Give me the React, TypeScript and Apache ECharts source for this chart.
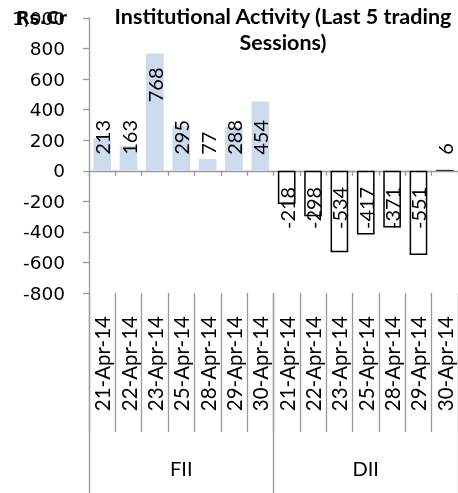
import React, { useEffect, useRef } from "react";
import * as echarts from "echarts";

const dates = ["21-Apr-14", "22-Apr-14", "23-Apr-14", "25-Apr-14", "28-Apr-14", "29-Apr-14", "30-Apr-14"];
const groups = ["FII", "DII"];
const fiiValues = [213, 163, 768, 295, 77, 288, 454];
const diiValues = [-218, -298, -534, -417, -371, -551, 6];
const yTicks = { min: -800, max: 1000, interval: 200 };

const AXIS_GRAY = "#999999";
const LABEL_FONT = "Lato";
const TEXT_COLOR = "#000000";

export default function App() {
  const ref = useRef<HTMLDivElement>(null);

  useEffect(() => {
    if (!ref.current) return;
    const chart = echarts.init(ref.current, null, { renderer: "svg" });

    const categories = [...dates, ...dates];
    const empty = dates.map(() => "-");

    const labelFor = (v: number) => {
      if (v >= 0) {
        const top = v > 600;
        return {
          show: true,
          position: top ? "insideTop" : "insideBottom",
          align: top ? "right" : "left",
          distance: top ? 14 : 16,
          color: TEXT_COLOR,
          textBorderWidth: 0,
        };
      }
      return {
        show: true,
        position: "insideTop",
        align: "right",
        distance: 16,
        color: TEXT_COLOR,
        textBorderWidth: 0,
      };
    };

    const fiiData = [
      ...fiiValues.map((v) => ({ value: v, label: labelFor(v) })),
      ...empty,
    ];
    const diiData = [
      ...empty,
      ...diiValues.map((v) => {
        const item: any = { value: v, label: labelFor(v) };
        if (Math.abs(v) < 10) item.itemStyle = { borderWidth: 0, color: "#000000" };
        return item;
      }),
    ];

    const baseLabel = {
      show: true,
      rotate: 90,
      verticalAlign: "middle",
      color: TEXT_COLOR,
      textBorderWidth: 0,
      fontFamily: LABEL_FONT,
      fontSize: 20,
    };

    chart.setOption({
      animation: false,
      title: {
        text: "Institutional Activity (Last 5 trading\nSessions)",
        left: 283,
        top: 3,
        textAlign: "center",
        padding: 0,
        textStyle: {
          fontFamily: LABEL_FONT,
          fontWeight: "bold",
          fontSize: 21.5,
          lineHeight: 26,
          color: TEXT_COLOR,
        },
      },
      graphic: [
        {
          type: "text",
          x: 67,
          y: 18,
          z: 100,
          style: {
            text: "Rs.Cr",
            align: "right",
            verticalAlign: "middle",
            fontFamily: "DejaVu Sans",
            fontWeight: "bold",
            fontSize: 17,
            fill: TEXT_COLOR,
          },
        },
      ],
      grid: { left: 89, top: 18, width: 370, height: 275, containLabel: false },
      xAxis: [
        {
          type: "category",
          data: categories,
          position: "bottom",
          axisLine: { show: true, onZero: true, lineStyle: { color: AXIS_GRAY, width: 1.3 } },
          axisTick: { show: true, length: 5, interval: 0, lineStyle: { color: AXIS_GRAY, width: 1.3 } },
          axisLabel: { show: false },
          splitLine: { show: false },
        },
        {
          type: "category",
          data: categories,
          position: "bottom",
          axisLine: { show: false, onZero: false },
          axisTick: { show: true, length: 139, interval: 0, lineStyle: { color: AXIS_GRAY, width: 1.3 } },
          axisLabel: {
            show: true,
            interval: 0,
            rotate: 90,
            margin: 23,
            color: TEXT_COLOR,
            fontFamily: LABEL_FONT,
            fontSize: 20.5,
          },
          splitLine: { show: false },
        },
        {
          type: "category",
          data: groups,
          position: "bottom",
          axisLine: { show: false, onZero: false },
          axisTick: { show: true, length: 200, interval: 0, lineStyle: { color: AXIS_GRAY, width: 1.3 } },
          axisLabel: {
            show: true,
            interval: 0,
            margin: 165,
            color: TEXT_COLOR,
            fontFamily: LABEL_FONT,
            fontSize: 20,
          },
          splitLine: { show: false },
        },
      ],
      yAxis: {
        type: "value",
        min: yTicks.min,
        max: yTicks.max,
        interval: yTicks.interval,
        axisLine: { show: true, lineStyle: { color: AXIS_GRAY, width: 1.3 } },
        axisTick: { show: true, length: 6, lineStyle: { color: AXIS_GRAY, width: 1.3 } },
        axisLabel: {
          margin: 24,
          color: TEXT_COLOR,
          fontFamily: "DejaVu Sans",
          fontSize: 18.5,
        },
        splitLine: { show: false },
      },
      series: [
        {
          type: "bar",
          name: "FII",
          xAxisIndex: 0,
          data: fiiData,
          barGap: "-100%",
          barCategoryGap: "33%",
          itemStyle: { color: "#cddbed" },
          label: baseLabel,
        },
        {
          type: "bar",
          name: "DII",
          xAxisIndex: 0,
          data: diiData,
          barGap: "-100%",
          barCategoryGap: "33%",
          itemStyle: {
            color: "#ffffff",
            borderColor: "#000000",
            borderWidth: 1.5,
          },
          label: baseLabel,
        },
      ],
    });

    return () => chart.dispose();
  }, []);

  return (
    <div
      ref={ref}
      style={{ position: "fixed", left: 0, top: 0, width: 458, height: 493 }}
    />
  );
}
